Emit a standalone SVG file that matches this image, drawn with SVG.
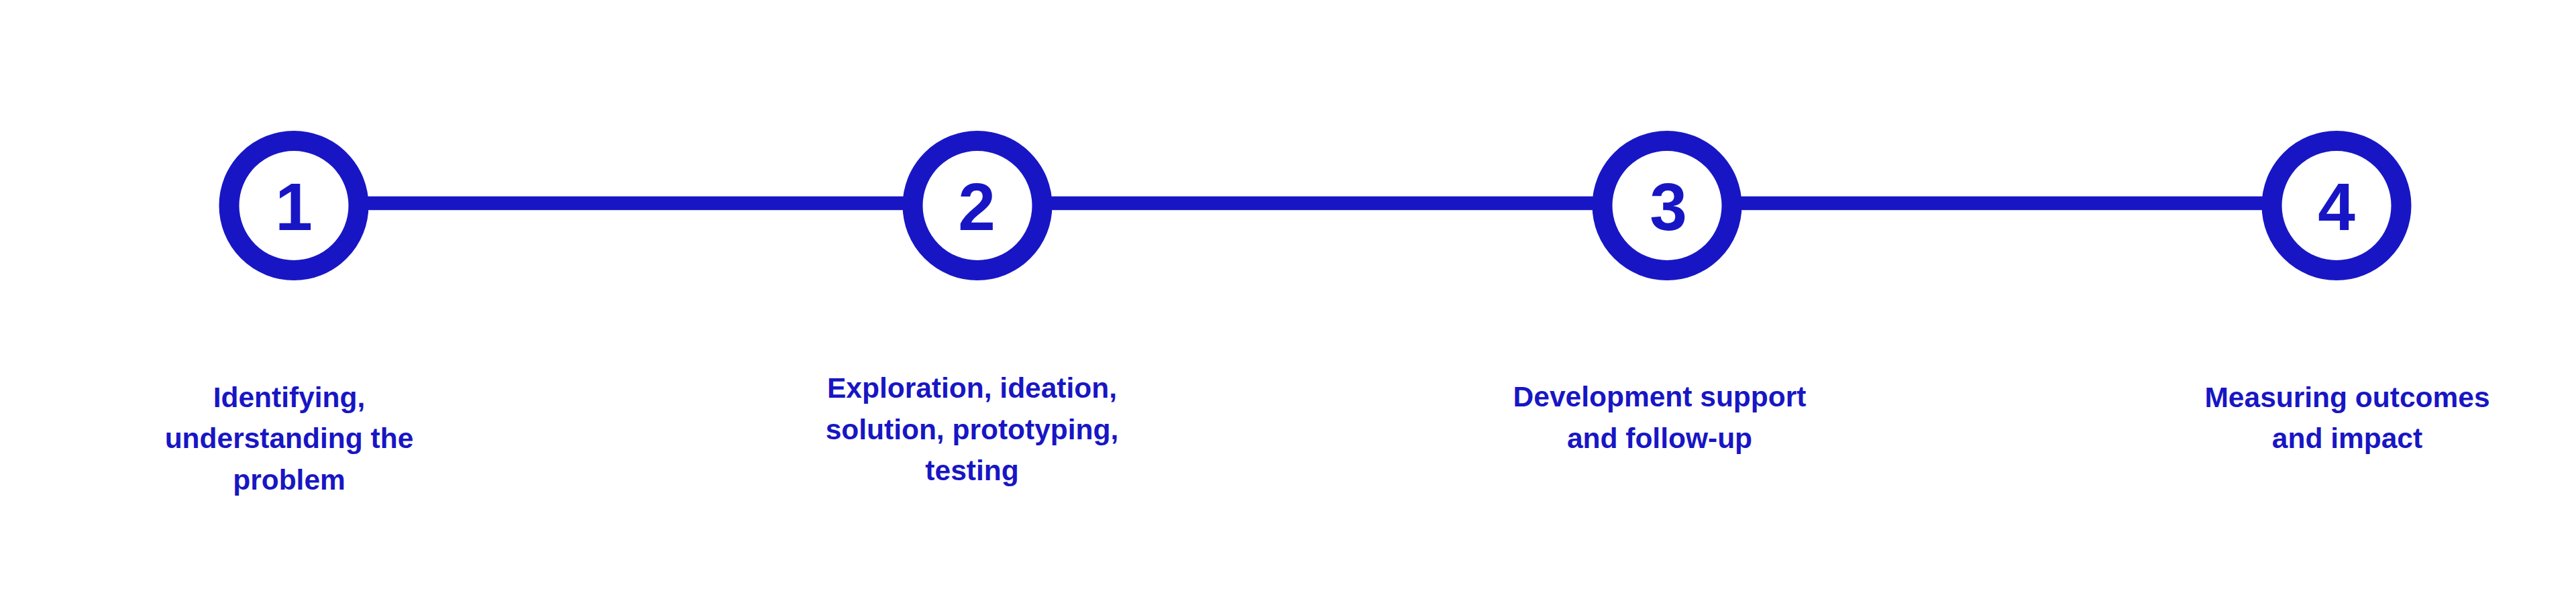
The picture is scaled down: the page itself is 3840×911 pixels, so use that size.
<svg xmlns="http://www.w3.org/2000/svg" width="3840" height="911" viewBox="0 0 3840 911">
  <style>
    .ring { fill: #ffffff; stroke: #1816C4; stroke-width: 30; }
    .num { font-family: "Liberation Sans", Arial, sans-serif; font-weight: bold; font-size: 100px; fill: #1816C4; text-anchor: middle; }
    .lbl { font-family: "Liberation Sans", Arial, sans-serif; font-weight: bold; font-size: 42.5px; fill: #1816C4; text-anchor: middle; }
    .conn { stroke: #1816C4; stroke-width: 20.6; fill: none; }
  </style>
  <rect width="3840" height="911" fill="#ffffff"/>
  <g id="connectors">
    <line class="conn" x1="438" y1="303" x2="1457" y2="303"/>
    <line class="conn" x1="1457" y1="303" x2="2485" y2="303"/>
    <line class="conn" x1="2485" y1="303" x2="3483" y2="303"/>
  </g>
  <g id="step1">
    <circle class="ring" cx="438" cy="306.5" r="96.5"/>
    <text class="num" x="438" y="343">1</text>
    <text class="lbl" x="431" y="607">Identifying,</text>
    <text class="lbl" x="431" y="668">understanding the</text>
    <text class="lbl" x="431" y="730">problem</text>
  </g>
  <g id="step2">
    <circle class="ring" cx="1457" cy="306.5" r="96.5"/>
    <text class="num" x="1456" y="343">2</text>
    <text class="lbl" x="1449" y="593">Exploration, ideation,</text>
    <text class="lbl" x="1449" y="655">solution, prototyping,</text>
    <text class="lbl" x="1449" y="716">testing</text>
  </g>
  <g id="step3">
    <circle class="ring" cx="2485" cy="306.5" r="96.5"/>
    <text class="num" x="2487" y="343">3</text>
    <text class="lbl" x="2474" y="606">Development support</text>
    <text class="lbl" x="2474" y="668">and follow-up</text>
  </g>
  <g id="step4">
    <circle class="ring" cx="3483" cy="306.5" r="96.5"/>
    <text class="num" x="3483" y="343">4</text>
    <text class="lbl" x="3499" y="607">Measuring outcomes</text>
    <text class="lbl" x="3499" y="668">and impact</text>
  </g>
</svg>
